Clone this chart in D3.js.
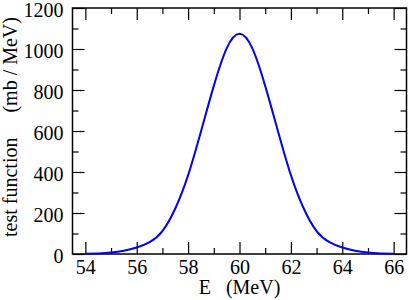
<!DOCTYPE html>
<html>
<head>
<meta charset="utf-8">
<script src="https://cdn.jsdelivr.net/npm/d3@7"></script>
<style>
  html, body { margin: 0; padding: 0; background: #fff; }
  svg { display: block; }
</style>
</head>
<body>
<div id="chart"></div>
<script>
// Energy grid (MeV) and test function values (mb / MeV).
const energies = [54, 54.5, 55, 55.5, 56, 56.5, 57, 57.5, 58, 58.5, 59, 59.5, 60,
  60.5, 61, 61.5, 62, 62.5, 63, 63.5, 64, 64.5, 65, 65.5, 66];
const values = [1, 3, 7, 16, 32, 58, 112, 222, 385, 598, 820, 1003, 1074,
  1003, 820, 598, 385, 222, 112, 58, 32, 16, 7, 3, 1];
const xTicks = [54, 56, 58, 60, 62, 64, 66];
const yTicks = [0, 200, 400, 600, 800, 1000, 1200];
const xLabel = 'E   (MeV)';
const yLabel = 'test function     (mb / MeV)';

const width = 409;
const height = 300;
const margin = {top: 8, right: 2.5, bottom: 46, left: 72.5};
const font = '"Liberation Serif", "Times New Roman", serif';

const x = d3.scaleLinear()
  .domain([53.5, 66.5])
  .range([margin.left, width - margin.right]);
const y = d3.scaleLinear()
  .domain([0, 1200])
  .range([height - margin.bottom, margin.top]);

const svg = d3.select('#chart').append('svg')
  .attr('width', width)
  .attr('height', height)
  .attr('viewBox', [0, 0, width, height])
  .attr('font-family', font);

// Minor ticks halfway between the labelled ones.
const xMinor = d3.range(55, 66, 2);
const yMinor = d3.range(100, 1200, 200);

const big = 12;
const small = 6;

const axisStyle = g => g
  .attr('font-family', font)
  .attr('font-size', 20)
  .call(g => g.select('.domain').remove())
  .call(g => g.selectAll('line').attr('stroke', '#000').attr('stroke-width', 1.2))
  .call(g => g.selectAll('text').attr('fill', '#000'));

// Bottom and top axes, ticks pointing inwards.
svg.append('g')
  .attr('transform', `translate(0,${y(0)})`)
  .call(d3.axisBottom(x).tickValues(xTicks).tickSize(-big).tickPadding(6).tickFormat(d3.format('d')))
  .call(axisStyle);
svg.append('g')
  .attr('transform', `translate(0,${y(0)})`)
  .call(d3.axisBottom(x).tickValues(xMinor).tickSize(-small).tickFormat(''))
  .call(axisStyle);
svg.append('g')
  .attr('transform', `translate(0,${y(1200)})`)
  .call(d3.axisTop(x).tickValues(xTicks).tickSize(-big).tickFormat(''))
  .call(axisStyle);
svg.append('g')
  .attr('transform', `translate(0,${y(1200)})`)
  .call(d3.axisTop(x).tickValues(xMinor).tickSize(-small).tickFormat(''))
  .call(axisStyle);

// Left and right axes.
svg.append('g')
  .attr('transform', `translate(${x(53.5)},0)`)
  .call(d3.axisLeft(y).tickValues(yTicks).tickSize(-big).tickPadding(9).tickFormat(d3.format('d')))
  .call(axisStyle)
  .call(g => g.selectAll('text').attr('dy', '0.4em'));
svg.append('g')
  .attr('transform', `translate(${x(53.5)},0)`)
  .call(d3.axisLeft(y).tickValues(yMinor).tickSize(-small).tickFormat(''))
  .call(axisStyle);
svg.append('g')
  .attr('transform', `translate(${x(66.5)},0)`)
  .call(d3.axisRight(y).tickValues(yTicks).tickSize(-big).tickFormat(''))
  .call(axisStyle);
svg.append('g')
  .attr('transform', `translate(${x(66.5)},0)`)
  .call(d3.axisRight(y).tickValues(yMinor).tickSize(-small).tickFormat(''))
  .call(axisStyle);

// Frame.
svg.append('rect')
  .attr('x', x(53.5))
  .attr('y', y(1200))
  .attr('width', x(66.5) - x(53.5))
  .attr('height', y(0) - y(1200))
  .attr('fill', 'none')
  .attr('stroke', '#000')
  .attr('stroke-width', 1.5);

const line = d3.line()
  .x((d, i) => x(energies[i]))
  .y(d => y(d))
  .curve(d3.curveNatural);

svg.append('path')
  .datum(values)
  .attr('fill', 'none')
  .attr('stroke', '#0000ff')
  .attr('stroke-width', 2)
  .attr('d', line);

svg.append('text')
  .attr('x', (x(53.5) + x(66.5)) / 2)
  .attr('y', 294)
  .attr('text-anchor', 'middle')
  .attr('font-size', 20)
  .style('white-space', 'pre')
  .text(xLabel);

svg.append('text')
  .attr('transform', `translate(17,127) rotate(-90)`)
  .attr('text-anchor', 'middle')
  .attr('font-size', 20)
  .style('white-space', 'pre')
  .text(yLabel);
</script>
</body>
</html>
